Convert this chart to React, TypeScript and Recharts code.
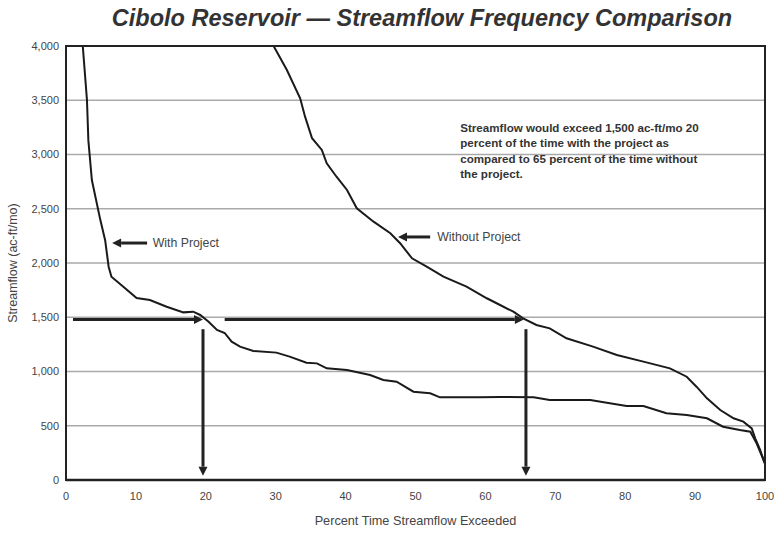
import React from 'react';
import {
  ComposedChart,
  Line,
  XAxis,
  YAxis,
  CartesianGrid,
  ReferenceLine,
  ReferenceDot,
} from 'recharts';

// Percent time exceeded vs streamflow (ac-ft/mo)
const withProjectPoints: [number, number][] = [
  [2.4, 4000], [3.0, 3500], [3.2, 3130], [3.7, 2765], [4.9, 2400], [5.6, 2210],
  [6.1, 1966], [6.5, 1874], [8.2, 1782], [10.1, 1677], [12.0, 1659], [14.4, 1597],
  [16.8, 1545], [18.2, 1551], [19.2, 1521], [20.4, 1459], [21.6, 1383], [22.7, 1355],
  [23.7, 1275], [24.9, 1229], [26.8, 1189], [30.1, 1174], [32.0, 1137], [34.4, 1081],
  [35.9, 1075], [37.3, 1029], [40.2, 1014], [43.5, 968], [45.4, 922], [47.3, 906],
  [49.7, 814], [52.1, 799], [53.5, 762], [59.2, 762], [62.1, 765], [66.9, 762],
  [69.2, 737], [75.0, 737], [77.8, 707], [80.2, 682], [82.6, 682], [85.9, 615],
  [88.8, 599], [91.7, 569], [94.0, 491], [96.4, 461], [97.9, 445], [98.8, 338],
  [99.8, 184], [100, 150],
];

const withoutProjectPoints: [number, number][] = [
  [29.7, 4000], [31.6, 3779], [33.5, 3518], [34.2, 3349], [35.2, 3150], [36.6, 3042],
  [37.3, 2919], [38.7, 2795], [40.2, 2673], [41.6, 2504], [44.0, 2381], [46.4, 2274],
  [47.8, 2182], [49.5, 2043], [51.6, 1966], [54.0, 1874], [57.3, 1782], [60.2, 1675],
  [62.1, 1613], [64.0, 1551], [65.4, 1490], [67.3, 1429], [69.2, 1398], [71.6, 1306],
  [75.4, 1229], [78.8, 1152], [82.6, 1091], [86.4, 1029], [88.8, 952], [90.2, 860],
  [91.7, 753], [93.6, 645], [95.5, 569], [96.9, 538], [98.1, 476], [98.6, 384],
  [99.3, 277], [99.8, 184], [100, 150],
];

const xTicks = [0, 10, 20, 30, 40, 50, 60, 70, 80, 90, 100];
const yTicks = [0, 500, 1000, 1500, 2000, 2500, 3000, 3500, 4000];

const titleText = 'Cibolo Reservoir \u2014 Streamflow Frequency Comparison';
const xAxisTitle = 'Percent Time Streamflow Exceeded';
const yAxisTitle = 'Streamflow (ac-ft/mo)';
const seriesNames = ['With Project', 'Without Project'];
const noteLines = [
  'Streamflow would exceed 1,500 ac-ft/mo 20',
  'percent of the time with the project as',
  'compared to 65 percent of the time without',
  'the project.',
];

// Reference level and exceedance points
const thresholdFlow = 1480;
const withCross = 19.6;
const withoutCross = 65.8;

const toXY = (pts: [number, number][]) => pts.map(([x, y]) => ({ x, y }));
const withData = toXY(withProjectPoints);
const withoutData = toXY(withoutProjectPoints);

const FONT = '"Liberation Sans", Arial, sans-serif';
const INK = '#222';

const arrowShape = (p: any) => {
  const { x1, y1, x2, y2 } = p;
  const ang = Math.atan2(y2 - y1, x2 - x1);
  const L = 9;
  const W = 4.5;
  const bx = x2 - L * Math.cos(ang);
  const by = y2 - L * Math.sin(ang);
  const px = -Math.sin(ang) * W;
  const py = Math.cos(ang) * W;
  return (
    <g>
      <line x1={x1} y1={y1} x2={bx} y2={by} stroke={INK} strokeWidth={3} />
      <polygon
        points={`${x2},${y2} ${bx + px},${by + py} ${bx - px},${by - py}`}
        fill={INK}
      />
    </g>
  );
};

const textShape = (label: string) => (p: any) => (
  <text
    x={p.cx}
    y={p.cy}
    dominantBaseline="central"
    fontFamily={FONT}
    fontSize={12.3}
    fill="#444"
  >
    {label}
  </text>
);

const noteShape = (p: any) => (
  <text x={p.cx} y={p.cy} fontFamily={FONT} fontSize={11.6} fontWeight="bold" fill="#333" dominantBaseline="central">
    {noteLines.map((l, i) => (
      <tspan key={i} x={p.cx} dy={i === 0 ? 0 : 15.5}>
        {l}
      </tspan>
    ))}
  </text>
);

const yLabel = (props: any) => {
  const vb = props.viewBox || { x: 8, y: 46, width: 58, height: 434 };
  const cx = 13;
  const cy = vb.y + vb.height / 2;
  return (
    <text
      x={cx}
      y={cy}
      transform={`rotate(-90, ${cx}, ${cy})`}
      textAnchor="middle"
      dominantBaseline="central"
      fontFamily={FONT}
      fontSize={12.5}
      fill="#444"
    >
      {yAxisTitle}
    </text>
  );
};

export default function App() {
  return (
    <div style={{ position: 'absolute', left: 0, top: 0, width: 778, height: 535, background: '#fff' }}>
      <div
        style={{
          position: 'absolute',
          left: 33,
          top: 4,
          width: 778,
          textAlign: 'center',
          fontFamily: FONT,
          fontSize: 23.5,
          fontWeight: 'bold',
          fontStyle: 'italic',
          color: '#333',
          lineHeight: '28px',
        }}
      >
        {titleText}
      </div>
      <ComposedChart
        width={778}
        height={535}
        margin={{ top: 46, right: 13, bottom: 25, left: 8 }}
      >
        <CartesianGrid vertical={false} stroke="#aaa" strokeWidth={1.5} />
        <XAxis
          dataKey="x"
          type="number"
          domain={[0, 100]}
          ticks={xTicks}
          allowDataOverflow
          height={30}
          tickLine={false}
          tickSize={10}
          axisLine={{ stroke: INK, strokeWidth: 2.5 }}
          tick={{ fontSize: 11, fill: '#444', fontFamily: FONT }}
          label={{
            value: xAxisTitle,
            position: 'bottom',
            offset: 6,
            style: { fontSize: 12.7, fill: '#444', fontFamily: FONT },
          }}
        />
        <YAxis
          type="number"
          domain={[0, 4000]}
          ticks={yTicks}
          allowDataOverflow
          width={58}
          tickLine={false}
          tickSize={5}
          axisLine={{ stroke: INK, strokeWidth: 2 }}
          tickFormatter={(v: number) => v.toLocaleString('en-US')}
          tick={{ fontSize: 11, fill: '#444', fontFamily: FONT }}
          label={{ content: yLabel }}
        />
        <Line
          data={withData}
          dataKey="y"
          name={seriesNames[0]}
          type="linear"
          dot={false}
          stroke="#1a1a1a"
          strokeWidth={2}
          isAnimationActive={false}
        />
        <Line
          data={withoutData}
          dataKey="y"
          name={seriesNames[1]}
          type="linear"
          dot={false}
          stroke="#1a1a1a"
          strokeWidth={2}
          isAnimationActive={false}
        />
        {/* exceedance arrows */}
        <ReferenceLine
          segment={[{ x: 1.0, y: thresholdFlow }, { x: withCross, y: thresholdFlow }]}
          shape={arrowShape}
        />
        <ReferenceLine
          segment={[{ x: 22.7, y: thresholdFlow }, { x: withoutCross - 0.3, y: thresholdFlow }]}
          shape={arrowShape}
        />
        <ReferenceLine
          segment={[{ x: withCross, y: 1390 }, { x: withCross, y: 40 }]}
          shape={arrowShape}
        />
        <ReferenceLine
          segment={[{ x: withoutCross, y: 1390 }, { x: withoutCross, y: 40 }]}
          shape={arrowShape}
        />
        {/* series labels */}
        <ReferenceLine
          segment={[{ x: 11.6, y: 2184 }, { x: 6.6, y: 2184 }]}
          shape={arrowShape}
        />
        <ReferenceDot x={12.4} y={2184} r={0} shape={textShape(seriesNames[0])} />
        <ReferenceLine
          segment={[{ x: 52.1, y: 2240 }, { x: 47.5, y: 2240 }]}
          shape={arrowShape}
        />
        <ReferenceDot x={53.1} y={2240} r={0} shape={textShape(seriesNames[1])} />
        <ReferenceDot x={56.4} y={3254} r={0} shape={noteShape} />
      </ComposedChart>
      {/* decorative plot frame */}
      <div
        style={{
          position: 'absolute',
          left: 65,
          top: 45,
          width: 701,
          height: 436,
          border: `2px solid ${INK}`,
          boxSizing: 'border-box',
          pointerEvents: 'none',
        }}
      />
    </div>
  );
}
